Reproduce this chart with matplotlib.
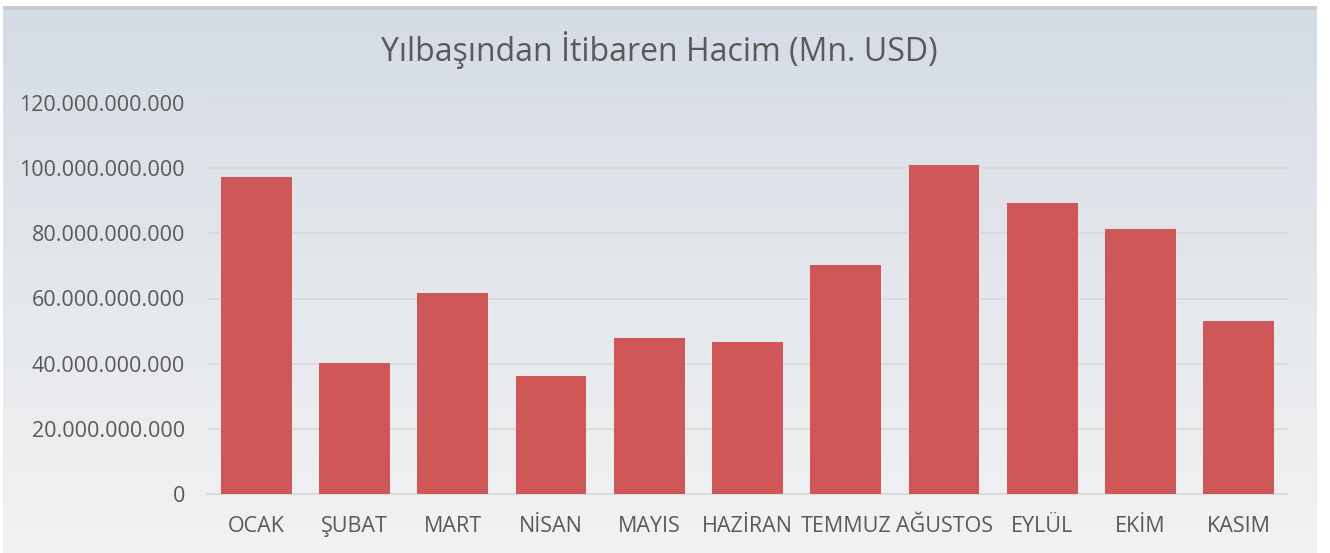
import numpy as np
import matplotlib.pyplot as plt
from matplotlib.ticker import FuncFormatter

months = ['OCAK', 'ŞUBAT', 'MART', 'NİSAN', 'MAYIS', 'HAZİRAN', 'TEMMUZ',
          'AĞUSTOS', 'EYLÜL', 'EKİM', 'KASIM']
volume = [97.3e9, 40.2e9, 61.7e9, 36.2e9, 47.9e9, 46.7e9, 70.3e9,
          101.0e9, 89.3e9, 81.3e9, 53.1e9]
y_ticks = [0, 20e9, 40e9, 60e9, 80e9, 100e9, 120e9]

plt.rcParams['font.family'] = ['Open Sans', 'DejaVu Sans']
txt_color = '#595959'

fig = plt.figure(figsize=(13.3, 5.53), dpi=100)
fig.patch.set_facecolor('white')

# gradient background panel
bg = fig.add_axes([3 / 1330, 0, 1314 / 1330, 546 / 553], zorder=-2)
top = np.array([0.835, 0.862, 0.898])
bot = np.array([0.949, 0.949, 0.949])
t = np.linspace(0, 1, 256)[:, None]
grad = (top * (1 - t) + bot * t)
grad = np.repeat(grad[:, None, :], 2, axis=1)
bg.imshow(grad, aspect='auto', extent=[0, 1, 0, 1])
bg.set_axis_off()
# darker strip at top of the panel
strip = fig.add_axes([3 / 1330, 543 / 553, 1314 / 1330, 4 / 553], zorder=-1)
strip.set_facecolor('#c9cbcf')
strip.set_xticks([])
strip.set_yticks([])
for s in strip.spines.values():
    s.set_visible(False)

ax = fig.add_axes([207 / 1330, 1 - 494 / 553, 1081 / 1330, 391 / 553])
ax.patch.set_alpha(0)
x = np.arange(len(months))
ax.bar(x, volume, width=0.72, color='#d05757', zorder=3)
ax.set_xlim(-0.5, len(months) - 0.5)
ax.set_ylim(0, 120e9)
ax.set_yticks(y_ticks)
ax.yaxis.set_major_formatter(FuncFormatter(lambda v, p: '{:,.0f}'.format(v).replace(',', '.')))
ax.set_xticks(x)
ax.set_xticklabels(months)
ax.grid(axis='y', color='#d9d9d9', linewidth=1.2, zorder=0)
for s in ['top', 'right', 'left']:
    ax.spines[s].set_visible(False)
ax.spines['bottom'].set_color('#d9d9d9')
ax.spines['bottom'].set_linewidth(1.2)
ax.tick_params(axis='both', length=0, labelsize=15.5, colors=txt_color)
ax.tick_params(axis='y', pad=16)
ax.tick_params(axis='x', pad=16)

fig.text(0.496, 0.91, 'Yılbaşından İtibaren Hacim (Mn. USD)', ha='center', va='center',
         fontsize=23, color=txt_color)

fig.savefig('out.png', dpi=100)
